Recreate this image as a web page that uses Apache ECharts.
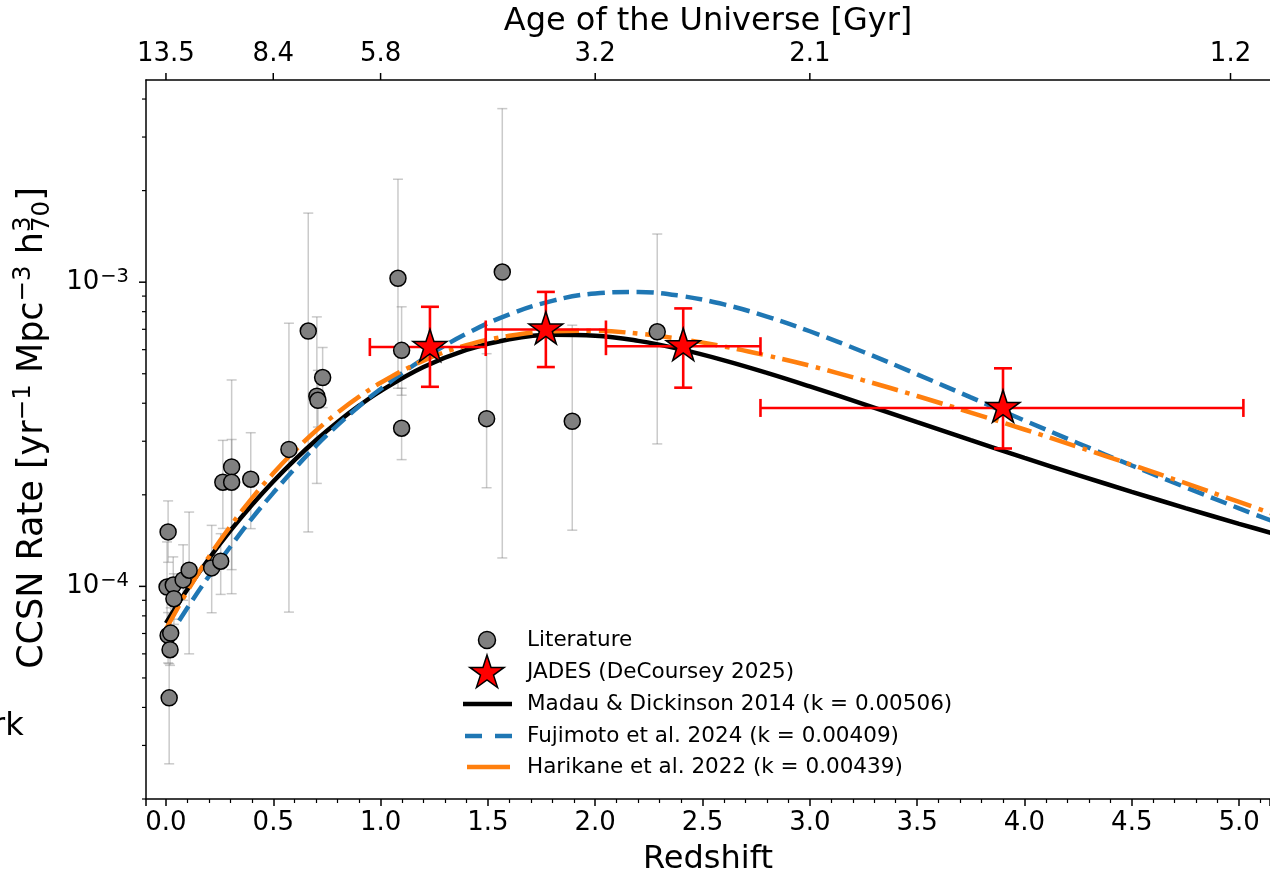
<!DOCTYPE html>
<html>
<head>
<meta charset="utf-8">
<title>CCSN rate vs redshift</title>
<script src="https://cdn.jsdelivr.net/npm/echarts@6/dist/echarts.min.js"></script>
<style>
  html, body { margin: 0; padding: 0; background: #ffffff; }
  #chart { width: 1270px; height: 878px; }
</style>
</head>
<body>
<div id="chart"></div>
<script>
// ---- Literature compilation: redshift, rate and error-bar ends ----
const litZ = [0.010, 0.005, 0.034, 0.037, 0.080, 0.108, 0.010, 0.022, 0.019, 0.015,
  0.213, 0.255, 0.265, 0.306, 0.306, 0.395, 0.573, 0.663, 0.703, 0.708, 0.730,
  1.081, 1.098, 1.098, 1.494, 1.567, 1.893, 2.289];
const litRate = [1.51e-4, 9.95e-5, 1.01e-4, 9.11e-5, 1.05e-4, 1.13e-4, 6.90e-5, 7.02e-5, 6.19e-5, 4.30e-5,
  1.15e-4, 1.21e-4, 2.20e-4, 2.47e-4, 2.20e-4, 2.25e-4, 2.82e-4, 6.91e-4, 4.22e-4, 4.09e-4, 4.86e-4,
  1.03e-3, 5.97e-4, 3.31e-4, 3.56e-4, 1.08e-3, 3.49e-4, 6.87e-4];
const litLow = [1.20e-4, 7.2e-5, 7.8e-5, 7.5e-5, 9.0e-5, 6.0e-5, 5.6e-5, 6.0e-5, 5.5e-5, 2.61e-5,
  8.19e-5, 9.41e-5, 1.55e-4, 1.135e-4, 9.46e-5, 1.548e-4, 8.23e-5, 1.51e-4, 2.18e-4, 3.34e-4, 3.87e-4,
  4.48e-4, 4.25e-4, 2.61e-4, 2.11e-4, 1.24e-4, 1.53e-4, 2.94e-4];
const litHigh = [1.91e-4, 1.40e-4, 1.25e-4, 1.10e-4, 1.37e-4, 1.755e-4, 8.2e-5, 8.5e-5, 7.0e-5, 5.57e-5,
  1.587e-4, 1.49e-4, 3.02e-4, 4.77e-4, 3.04e-4, 3.20e-4, 7.33e-4, 1.687e-3, 7.69e-4, 5.13e-4, 6.10e-4,
  2.18e-3, 8.30e-4, 4.48e-4, 5.82e-4, 3.72e-3, 7.22e-4, 1.44e-3];

// ---- JADES (DeCoursey 2025) binned rates ----
const jadesZ = [1.23, 1.77, 2.41, 3.90];
const jadesRate = [6.12e-4, 6.99e-4, 6.16e-4, 3.86e-4];
const jadesRateLow = [4.53e-4, 5.26e-4, 4.50e-4, 2.84e-4];
const jadesRateHigh = [8.30e-4, 9.29e-4, 8.20e-4, 5.21e-4];
const jadesZLow = [0.95, 1.49, 2.05, 2.77];
const jadesZHigh = [1.49, 2.05, 2.77, 5.02];

// ---- Model curves (rate per redshift sample) ----
const curveZ = [0, 0.1, 0.2, 0.3, 0.4, 0.5, 0.6, 0.7, 0.8, 0.9, 1.0, 1.2, 1.4, 1.6, 1.8,
  2.0, 2.2, 2.4, 2.6, 2.8, 3.0, 3.25, 3.5, 3.75, 4.0, 4.25, 4.5, 4.75, 5.0, 5.25];
const madauRate = [7.57e-5, 9.78e-5, 1.233e-4, 1.524e-4, 1.851e-4, 2.213e-4, 2.607e-4, 3.028e-4,
  3.471e-4, 3.927e-4, 4.385e-4, 5.260e-4, 5.992e-4, 6.493e-4, 6.716e-4, 6.672e-4, 6.414e-4,
  6.012e-4, 5.535e-4, 5.034e-4, 4.543e-4, 3.975e-4, 3.466e-4, 3.025e-4, 2.646e-4, 2.322e-4,
  2.046e-4, 1.809e-4, 1.606e-4, 1.431e-4];
const fujimotoRate = [6.60e-5, 8.50e-5, 1.080e-4, 1.350e-4, 1.670e-4, 2.030e-4, 2.440e-4, 2.900e-4,
  3.390e-4, 3.910e-4, 4.455e-4, 5.605e-4, 6.770e-4, 7.841e-4, 8.683e-4, 9.184e-4, 9.287e-4,
  9.012e-4, 8.450e-4, 7.710e-4, 6.897e-4, 5.895e-4, 4.977e-4, 4.181e-4, 3.511e-4, 2.955e-4,
  2.496e-4, 2.118e-4, 1.805e-4, 1.547e-4];
const harikaneRate = [7.24e-5, 9.65e-5, 1.250e-4, 1.577e-4, 1.947e-4, 2.353e-4, 2.791e-4, 3.253e-4,
  3.727e-4, 4.203e-4, 4.669e-4, 5.522e-4, 6.204e-4, 6.667e-4, 6.899e-4, 6.922e-4, 6.774e-4,
  6.501e-4, 6.146e-4, 5.741e-4, 5.315e-4, 4.758e-4, 4.225e-4, 3.728e-4, 3.279e-4, 2.873e-4,
  2.509e-4, 2.184e-4, 1.895e-4, 1.638e-4];

// ---- Axis ticks ----
const ageTickZ = [0, 0.5, 1.0, 2.0, 3.0, 4.96];
const ageTickLabels = ['13.5', '8.4', '5.8', '3.2', '2.1', '1.2'];
const yMajorTicks = [1e-4, 1e-3];
const yMinorTicks = [2e-5, 3e-5, 4e-5, 5e-5, 6e-5, 7e-5, 8e-5, 9e-5,
  2e-4, 3e-4, 4e-4, 5e-4, 6e-4, 7e-4, 8e-4, 9e-4, 2e-3, 3e-3, 4e-3];

const legendNames = ['Literature', 'JADES (DeCoursey 2025)',
  'Madau & Dickinson 2014 (k = 0.00506)', 'Fujimoto et al. 2024 (k = 0.00409)',
  'Harikane et al. 2022 (k = 0.00439)'];

// ---- Layout / style ----
const FONT = 'DejaVu Sans';
const TICK_FONT = 26;
const X_MIN = -0.093, X_MAX = 5.144;
const Y_MIN = 2e-5, Y_MAX = 4.62e-3;
const BLUE = '#1f77b4', ORANGE = '#ff7f0e';

// five-point star outline (outer radius 100, inner 38.2)
const STAR_PATH = 'path://M100,0 L122.45,69.1 L195.11,69.1 L136.33,111.8 L158.78,180.9 ' +
  'L100,138.2 L41.22,180.9 L63.67,111.8 L4.89,69.1 L77.55,69.1 Z';

function starPoints(cx, cy, R) {
  const pts = [];
  for (let k = 0; k < 10; k++) {
    const a = -Math.PI / 2 + k * Math.PI / 5;
    const r = k % 2 ? R * 0.382 : R;
    pts.push([cx + r * Math.cos(a), cy + r * Math.sin(a)]);
  }
  return pts;
}

const measureCtx = document.createElement('canvas').getContext('2d');
function textWidth(t, size) {
  measureCtx.font = size + 'px "' + FONT + '"';
  return measureCtx.measureText(t).width;
}

// y-axis title with super/subscripts, laid out horizontally then rotated
function buildYTitle() {
  const MAIN = 35, SCRIPT = 24.5, UP = -9, DOWN = 10;
  const parts = [
    [{ t: 'CCSN Rate [yr', s: MAIN, dy: 0 }],
    [{ t: '\u22121', s: SCRIPT, dy: UP }],
    [{ t: ' Mpc', s: MAIN, dy: 0 }],
    [{ t: '\u22123', s: SCRIPT, dy: UP }],
    [{ t: ' h', s: MAIN, dy: 0 }],
    [{ t: '3', s: SCRIPT, dy: UP }, { t: '70', s: SCRIPT, dy: DOWN }],
    [{ t: ']', s: MAIN, dy: 0 }]
  ];
  const widths = parts.map(p => Math.max.apply(null, p.map(q => textWidth(q.t, q.s))));
  const total = widths.reduce((a, b) => a + b, 0);
  const children = [];
  let x = -total / 2;
  parts.forEach((p, i) => {
    p.forEach(q => {
      children.push({
        type: 'text',
        style: {
          text: q.t, x: x, y: q.dy, fill: '#000',
          font: q.s + 'px "' + FONT + '"', align: 'left', verticalAlign: 'middle'
        }
      });
    });
    x += widths[i];
  });
  return { type: 'group', x: 33, y: 428, rotation: Math.PI / 2, children: children, z: 100 };
}

function buildLegend() {
  const rows = [640, 672, 704, 736, 767];
  const font = '21.5px "' + FONT + '"';
  const els = [];
  els.push({ type: 'circle', shape: { cx: 487, cy: rows[0], r: 8.5 },
    style: { fill: '#808080', stroke: '#000', lineWidth: 1.5 } });
  els.push({ type: 'polygon', shape: { points: starPoints(487, rows[1] + 1, 18) },
    style: { fill: '#ff0000', stroke: '#000', lineWidth: 1.5 } });
  els.push({ type: 'line', shape: { x1: 463, y1: rows[2], x2: 512, y2: rows[2] },
    style: { stroke: '#000', lineWidth: 4.5 } });
  els.push({ type: 'line', shape: { x1: 465, y1: rows[3], x2: 512, y2: rows[3] },
    style: { stroke: BLUE, lineWidth: 4.5, lineDash: [17, 13] } });
  els.push({ type: 'line', shape: { x1: 467, y1: rows[4], x2: 510, y2: rows[4] },
    style: { stroke: ORANGE, lineWidth: 4.5 } });
  legendNames.forEach((name, i) => {
    els.push({ type: 'text', style: { text: name, x: 527, y: rows[i], fill: '#000',
      font: font, align: 'left', verticalAlign: 'middle' } });
  });
  return { type: 'group', children: els, z: 100 };
}

function isHalfStep(v) { return Math.abs(v * 2 - Math.round(v * 2)) < 1e-6; }

const chart = echarts.init(document.getElementById('chart'), null, { renderer: 'canvas' });

const option = {
  animation: false,
  backgroundColor: '#ffffff',
  textStyle: { fontFamily: FONT },
  grid: { left: 146, right: 0, top: 80, bottom: 79, containLabel: false, outerBoundsMode: 'none' },
  xAxis: [
    {
      type: 'value', position: 'bottom', min: X_MIN, max: X_MAX, splitNumber: 10,
      name: 'Redshift', nameLocation: 'middle', nameGap: 45,
      nameTextStyle: { fontSize: 32, color: '#000', fontFamily: FONT },
      axisLine: { show: true, onZero: false, lineStyle: { color: '#000', width: 1.5 } },
      axisTick: { show: true, length: 7, lineStyle: { color: '#000', width: 1.5 } },
      minorTick: { show: true, splitNumber: 5, length: 4, lineStyle: { color: '#000', width: 1.2 } },
      axisLabel: {
        fontSize: TICK_FONT, color: '#000', fontFamily: FONT, margin: 11,
        showMinLabel: false, showMaxLabel: false,
        formatter: v => isHalfStep(v) ? v.toFixed(1) : ''
      },
      splitLine: { show: false }
    },
    {
      type: 'value', position: 'top', min: X_MIN, max: X_MAX, splitNumber: 10,
      name: 'Age of the Universe [Gyr]', nameLocation: 'middle', nameGap: 42,
      nameTextStyle: { fontSize: 32, color: '#000', fontFamily: FONT },
      axisLine: { show: true, onZero: false, lineStyle: { color: '#000', width: 1.5 } },
      axisTick: { show: false },
      axisLabel: { show: false },
      splitLine: { show: false }
    }
  ],
  yAxis: {
    type: 'log', logBase: 10, min: Y_MIN, max: Y_MAX,
    axisLine: { show: true, onZero: false, lineStyle: { color: '#000', width: 1.5 } },
    axisTick: { show: false },
    axisLabel: {
      margin: 17, color: '#000', fontFamily: FONT,
      formatter: v => {
        const lg = Math.log10(v), e = Math.round(lg);
        if (Math.abs(lg - e) > 1e-6) return '';
        return '{b|10}{s|' + (e < 0 ? '\u2212' + (-e) : e) + '}';
      },
      rich: {
        b: { fontSize: TICK_FONT, color: '#000', fontFamily: FONT, lineHeight: 31, verticalAlign: 'middle' },
        s: { fontSize: 19.5, color: '#000', fontFamily: FONT, verticalAlign: 'top', padding: [0, 0, 0, 1] }
      }
    },
    splitLine: { show: false }
  },
  series: [
    {
      name: 'Literature errors', type: 'custom', z: 1, clip: false, silent: true,
      data: litZ.map((z, i) => [z, litLow[i], litHigh[i]]),
      encode: { x: 0, y: [1, 2] },
      renderItem: (params, api) => {
        const a = api.coord([api.value(0), api.value(1)]);
        const b = api.coord([api.value(0), api.value(2)]);
        const w = 5;
        const style = { stroke: 'rgba(128,128,128,0.42)', lineWidth: 1.5 };
        return { type: 'group', children: [
          { type: 'line', shape: { x1: a[0], y1: a[1], x2: b[0], y2: b[1] }, style },
          { type: 'line', shape: { x1: a[0] - w, y1: a[1], x2: a[0] + w, y2: a[1] }, style },
          { type: 'line', shape: { x1: b[0] - w, y1: b[1], x2: b[0] + w, y2: b[1] }, style }
        ] };
      }
    },
    {
      name: legendNames[2], type: 'line', z: 2, symbol: 'none', smooth: 0.4,
      data: curveZ.map((z, i) => [z, madauRate[i]]),
      lineStyle: { color: '#000', width: 4.5 }
    },
    {
      name: legendNames[3], type: 'line', z: 2, symbol: 'none', smooth: 0.4,
      data: curveZ.map((z, i) => [z, fujimotoRate[i]]),
      lineStyle: { color: BLUE, width: 4.5, type: [17, 7.5], cap: 'butt' }
    },
    {
      name: legendNames[4], type: 'line', z: 2, symbol: 'none', smooth: 0.4,
      data: curveZ.map((z, i) => [z, harikaneRate[i]]),
      lineStyle: { color: ORANGE, width: 4.5, type: [27, 7.5, 4.5, 7.5], cap: 'butt' }
    },
    {
      name: 'JADES errors', type: 'custom', z: 3, clip: false, silent: true,
      data: jadesZ.map((z, i) => [z, jadesRate[i], jadesZLow[i], jadesZHigh[i], jadesRateLow[i], jadesRateHigh[i]]),
      encode: { x: [0, 2, 3], y: [1, 4, 5] },
      renderItem: (params, api) => {
        const z = api.value(0), r = api.value(1);
        const l = api.coord([api.value(2), r]);
        const h = api.coord([api.value(3), r]);
        const lo = api.coord([z, api.value(4)]);
        const hi = api.coord([z, api.value(5)]);
        const c = 9;
        const style = { stroke: '#ff0000', lineWidth: 2.6 };
        return { type: 'group', children: [
          { type: 'line', shape: { x1: l[0], y1: l[1], x2: h[0], y2: h[1] }, style },
          { type: 'line', shape: { x1: l[0], y1: l[1] - c, x2: l[0], y2: l[1] + c }, style },
          { type: 'line', shape: { x1: h[0], y1: h[1] - c, x2: h[0], y2: h[1] + c }, style },
          { type: 'line', shape: { x1: lo[0], y1: lo[1], x2: hi[0], y2: hi[1] }, style },
          { type: 'line', shape: { x1: lo[0] - c, y1: lo[1], x2: lo[0] + c, y2: lo[1] }, style },
          { type: 'line', shape: { x1: hi[0] - c, y1: hi[1], x2: hi[0] + c, y2: hi[1] }, style }
        ] };
      }
    },
    {
      name: legendNames[0], type: 'scatter', z: 4, symbol: 'circle', symbolSize: 16,
      data: litZ.map((z, i) => [z, litRate[i]]),
      itemStyle: { color: '#808080', borderColor: '#000', borderWidth: 1.5, opacity: 1 }
    },
    {
      name: legendNames[1], type: 'scatter', z: 5, symbol: STAR_PATH,
      symbolSize: [34, 32.3], symbolOffset: [0, -1.7],
      data: jadesZ.map((z, i) => [z, jadesRate[i]]),
      itemStyle: { color: '#ff0000', borderColor: '#000', borderWidth: 1.5, opacity: 1 }
    },
    {
      name: 'y ticks', type: 'custom', z: 6, clip: false, silent: true,
      data: yMajorTicks.map(v => [X_MIN, v, 7]).concat(yMinorTicks.map(v => [X_MIN, v, 4])),
      encode: { x: 0, y: 1 },
      renderItem: (params, api) => {
        const p = api.coord([api.value(0), api.value(1)]);
        const len = api.value(2);
        return { type: 'line', shape: { x1: p[0] - len, y1: p[1], x2: p[0], y2: p[1] },
          style: { stroke: '#000', lineWidth: len > 5 ? 1.5 : 1.2 } };
      }
    },
    {
      // age-of-universe ticks and labels along the top edge
      name: 'age ticks', type: 'custom', z: 6, clip: false, silent: true,
      data: ageTickZ.map((z, i) => [z, Y_MAX, i]),
      encode: { x: 0, y: 1 },
      renderItem: (params, api) => {
        const p = api.coord([api.value(0), api.value(1)]);
        const label = ageTickLabels[api.value(2)];
        return { type: 'group', children: [
          { type: 'line', shape: { x1: p[0], y1: p[1], x2: p[0], y2: p[1] - 7 },
            style: { stroke: '#000', lineWidth: 1.5 } },
          { type: 'text', style: { text: label, x: p[0], y: p[1] - 13, fill: '#000',
            font: TICK_FONT + 'px "' + FONT + '"', align: 'center', verticalAlign: 'bottom' } }
        ] };
      }
    }
  ],
  graphic: [
    buildYTitle(),
    buildLegend(),
    { type: 'text', z: 100, style: { text: 'rk', x: -8, y: 727, fill: '#000',
      font: '32px "' + FONT + '"', align: 'left', verticalAlign: 'middle' } }
  ]
};

chart.setOption(option);
</script>
</body>
</html>
